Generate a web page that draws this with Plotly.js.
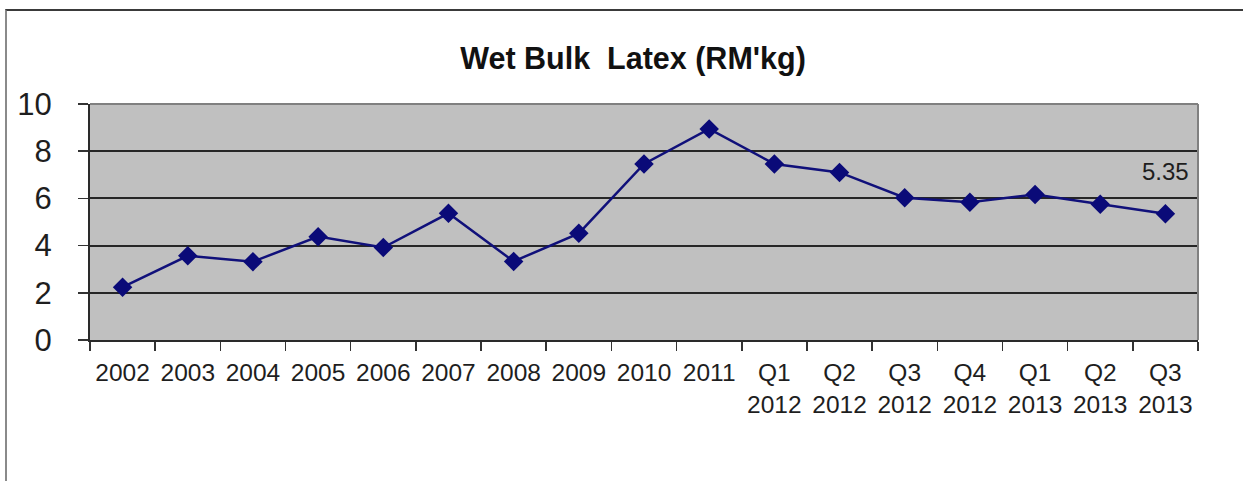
<!DOCTYPE html>
<html>
<head>
<meta charset="utf-8">
<script src="https://cdn.plot.ly/plotly-3.0.1.min.js"></script>
<style>
  html, body { margin: 0; padding: 0; background: #ffffff; }
  #wrap { position: relative; width: 1243px; height: 481px; overflow: hidden; }
  #frame {
    position: absolute; left: 5px; top: 9px; right: 0; bottom: 0;
    border-top: 2px solid #3a3a3a; border-left: 2px solid #8a8a8a;
    pointer-events: none; z-index: 5;
  }
  #chart { position: absolute; left: 0; top: 0; width: 1243px; height: 481px; }
</style>
</head>
<body>
<div id="wrap">
  <div id="chart"></div>
  <div id="frame"></div>
</div>
<script>
// Wet bulk latex price, RM per kg: yearly averages then quarterly figures
const periods = ['2002', '2003', '2004', '2005', '2006', '2007', '2008', '2009', '2010', '2011',
                 'Q1<br>2012', 'Q2<br>2012', 'Q3<br>2012', 'Q4<br>2012', 'Q1<br>2013', 'Q2<br>2013', 'Q3<br>2013'];
const prices = [2.24, 3.57, 3.32, 4.38, 3.92, 5.37, 3.33, 4.52, 7.46, 8.94,
                7.46, 7.10, 6.03, 5.84, 6.17, 5.75, 5.35];
const yTicks = [0, 2, 4, 6, 8, 10];

const lastIdx = prices.length - 1;

const trace = {
  x: periods,
  y: prices,
  type: 'scatter',
  mode: 'lines+markers',
  line: { color: '#10107a', width: 2.5 },
  marker: { symbol: 'diamond', size: 15, color: '#0a0a78', line: { width: 0 } },
  hoverinfo: 'x+y'
};

const layout = {
  width: 1243,
  height: 481,
  margin: { l: 90, r: 45, t: 104, b: 141, pad: 0 },
  paper_bgcolor: '#ffffff',
  plot_bgcolor: '#c0c0c0',
  showlegend: false,
  font: { family: 'Liberation Sans, Arial, sans-serif', color: '#1e1e1e' },
  title: {
    text: "Wet Bulk  Latex (RM'kg)",
    font: { family: 'Liberation Sans, Arial, sans-serif', size: 30.5, color: '#111111', weight: 'bold' },
    x: 633 / 1243, xanchor: 'center',
    y: 1 - 58 / 481, yanchor: 'middle'
  },
  xaxis: {
    type: 'category',
    range: [-0.5, periods.length - 0.5],
    tickson: 'boundaries',
    tickangle: 0,
    ticks: 'outside',
    ticklen: 9,
    tickwidth: 1.5,
    tickcolor: '#333333',
    ticklabelstandoff: 10,
    tickfont: { size: 24.5, color: '#1e1e1e' },
    showgrid: false,
    showline: true,
    linecolor: '#2a2a2a',
    linewidth: 2,
    zeroline: false,
    fixedrange: true
  },
  yaxis: {
    range: [0, 10],
    tickmode: 'array',
    tickvals: yTicks,
    ticktext: yTicks.map(String),
    ticks: 'outside',
    ticklen: 10,
    tickwidth: 1.5,
    tickcolor: '#333333',
    ticklabelstandoff: 20,
    tickfont: { size: 31, color: '#1e1e1e' },
    showgrid: true,
    gridcolor: '#262626',
    gridwidth: 2,
    showline: true,
    linecolor: '#2a2a2a',
    linewidth: 2,
    zeroline: false,
    fixedrange: true
  },
  shapes: [
    // light frame on the top and right sides of the plotting area
    { type: 'line', xref: 'paper', yref: 'paper', x0: 0, x1: 1, y0: 1, y1: 1,
      line: { color: '#808080', width: 2 } },
    { type: 'line', xref: 'paper', yref: 'paper', x0: 1, x1: 1, y0: 0, y1: 1,
      line: { color: '#808080', width: 2 } }
  ],
  annotations: [
    {
      x: periods[lastIdx],
      y: prices[lastIdx],
      xref: 'x', yref: 'y',
      text: prices[lastIdx].toFixed(2),
      showarrow: false,
      yshift: 42,
      font: { size: 24, color: '#1e1e1e' }
    }
  ]
};

Plotly.newPlot('chart', [trace], layout, { displayModeBar: false, staticPlot: true });
</script>
</body>
</html>
